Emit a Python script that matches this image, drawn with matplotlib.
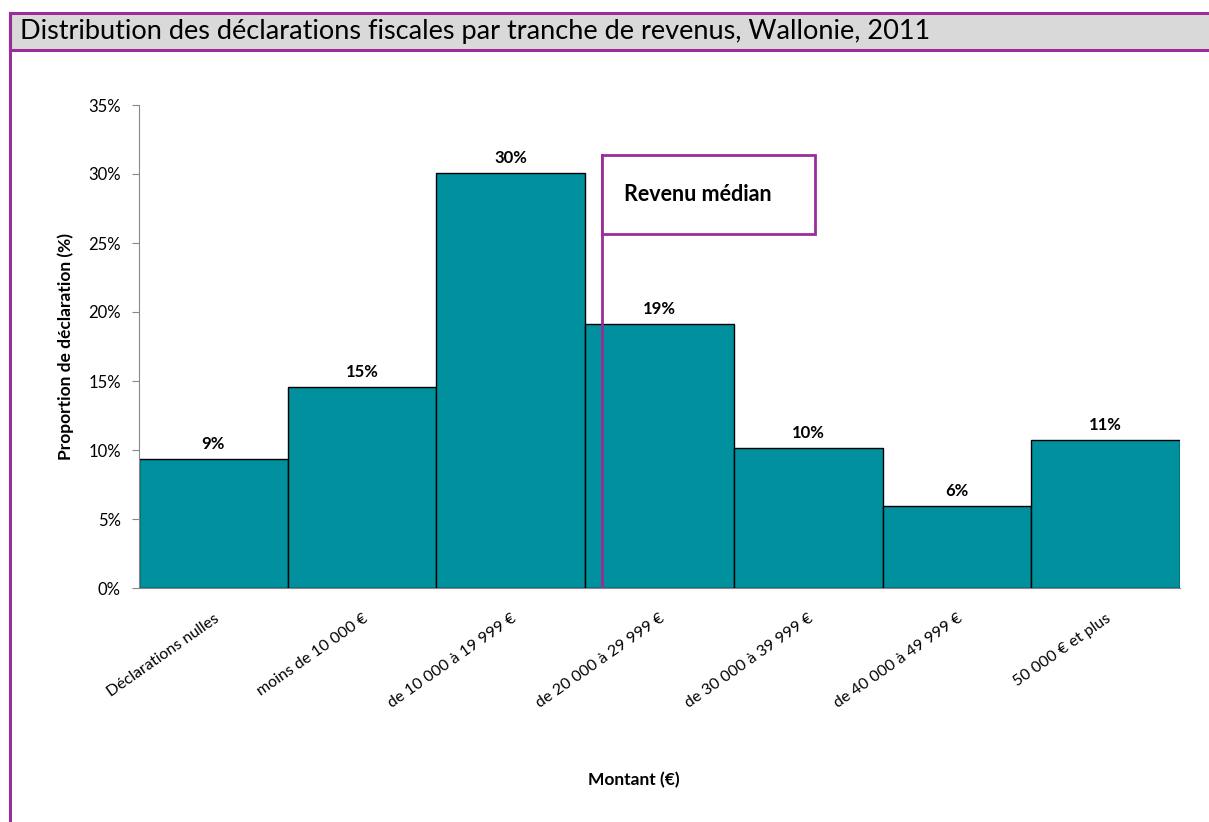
import matplotlib.pyplot as plt
import matplotlib.patches as patches
import numpy as np

plt.rcParams['font.family'] = ['Lato', 'DejaVu Sans']

categories = ['Déclarations nulles', 'moins de 10 000 €', 'de 10 000 à 19 999 €',
              'de 20 000 à 29 999 €', 'de 30 000 à 39 999 €', 'de 40 000 à 49 999 €',
              '50 000 € et plus']
values = [9.35, 14.6, 30.05, 19.15, 10.15, 5.95, 10.75]
labels = ['9%', '15%', '30%', '19%', '10%', '6%', '11%']
median_pos = 2.61  # position of median income on the category axis

purple = '#992d99'
teal = '#00909e'

fig = plt.figure(figsize=(12.09, 8.22), dpi=100)

# title bar with frame
fig.patches.append(patches.Rectangle((10 / 1209, 1 - 50 / 822), 1.2, 37 / 822,
                                     transform=fig.transFigure, facecolor='#d9d9d9',
                                     edgecolor=purple, linewidth=2.2, zorder=0))
fig.lines.append(plt.Line2D([10 / 1209, 10 / 1209], [-0.01, 1 - 13 / 822],
                            transform=fig.transFigure, color=purple, linewidth=2.2))
fig.text(20 / 1209, 1 - 32 / 822, 'Distribution des déclarations fiscales par tranche de revenus, Wallonie, 2011',
         fontsize=19.5, va='center', ha='left')

ax = fig.add_axes([139 / 1209, 1 - 588 / 822, 1041 / 1209, 483 / 822])
x = np.arange(len(categories))
ax.bar(x, values, width=1.0, color=teal, edgecolor='black', linewidth=1)
for xi, v, lab in zip(x, values, labels):
    ax.text(xi, v + 0.5, lab, ha='center', va='bottom', fontsize=12, fontweight='bold')

ax.set_xlim(-0.5, len(categories) - 0.5)
ax.set_ylim(0, 35)
ax.set_yticks(np.arange(0, 36, 5))
ax.set_yticklabels([f'{t}%' for t in range(0, 36, 5)], fontsize=12)
ax.set_xticks(x)
ax.set_xticklabels(categories, rotation=35, ha='right', va='top',
                   rotation_mode='anchor', fontsize=11.5)
ax.tick_params(axis='x', length=0, pad=17)
ax.tick_params(axis='y', length=5, color='#888888', direction='out', pad=8)
for s in ['top', 'right']:
    ax.spines[s].set_visible(False)
for s in ['left', 'bottom']:
    ax.spines[s].set_color('#888888')

# median marker
ax.plot([median_pos, median_pos], [0, 31.4], color=purple, linewidth=2)
ax.add_patch(patches.Rectangle((median_pos, 25.65), 4.046 - median_pos, 31.4 - 25.65,
                               facecolor='white', edgecolor=purple, linewidth=2, zorder=3))
ax.text(median_pos + 0.15, 28.5, 'Revenu médian', fontsize=15.5, fontweight='bold',
        va='center', ha='left', zorder=4)

ax.set_ylabel('Proportion de déclaration (%)', fontsize=12.5, fontweight='bold', labelpad=10)
fig.text(634 / 1209, 1 - 780 / 822, 'Montant (€)', fontsize=12.5, fontweight='bold',
         ha='center', va='center')

fig.savefig('out.png', dpi=100)
